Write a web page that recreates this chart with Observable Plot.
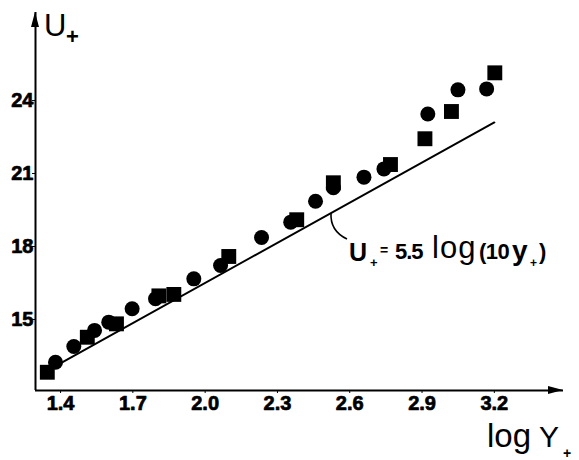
<!DOCTYPE html>
<html><head><meta charset="utf-8">
<script src="https://cdn.jsdelivr.net/npm/d3@7"></script>
<script src="https://cdn.jsdelivr.net/npm/@observablehq/plot@0.6"></script>
<style>body{margin:0;background:#fff} svg{display:block}</style>
</head><body><div id="chart"></div>
<script>
const xTicks = [1.4, 1.7, 2.0, 2.3, 2.6, 2.9, 3.2];
const yTicks = [15, 18, 21, 24];
const xDomain = [1.296, 3.487];
const yDomain = [12.08, 27.62];

const circleX = [1.379, 1.455, 1.541, 1.600, 1.697, 1.794, 1.953, 2.064, 2.234, 2.355, 2.458, 2.532, 2.659, 2.742, 2.924, 3.049, 3.168];
const circleY = [13.24, 13.89, 14.55, 14.89, 15.44, 15.85, 16.67, 17.22, 18.37, 19.00, 19.86, 20.42, 20.85, 21.19, 23.45, 24.44, 24.48];

const squareX = [1.345, 1.511, 1.632, 1.808, 1.870, 2.098, 2.380, 2.532, 2.769, 2.912, 3.022, 3.202];
const squareY = [12.83, 14.27, 14.82, 15.97, 16.03, 17.59, 19.10, 20.62, 21.37, 22.43, 23.55, 25.14];

// U+ = 5.5 log(10 y+) drawn between its two end points
const lineX = [1.345, 3.2];
const lineY = [12.90, 23.10];

const circles = circleX.map((x, i) => ({x, y: circleY[i]}));
const squares = squareX.map((x, i) => ({x, y: squareY[i]}));
const law = lineX.map((x, i) => ({x, y: lineY[i]}));

const ff = "'Liberation Sans', Arial, sans-serif";

const chart = Plot.plot({
  width: 579, height: 460,
  marginLeft: 35, marginRight: 16, marginTop: 12, marginBottom: 70,
  x: {domain: xDomain},
  y: {domain: yDomain},
  style: {fontFamily: ff, background: "white", color: "black"},
  marks: [
    Plot.axisX({ticks: xTicks, tickSize: 3, tickFormat: () => "", label: null}),
    Plot.axisY({ticks: yTicks, tickSize: 3, tickFormat: () => "", label: null}),
    Plot.text(xTicks, {x: d => d, frameAnchor: "bottom", lineAnchor: "top", dy: 5, text: d => d.toFixed(1), fontSize: 20, fontWeight: "bold", fill: "black", stroke: "black", strokeWidth: 0.7}),
    Plot.text(yTicks, {y: d => d, frameAnchor: "left", textAnchor: "end", dx: -2, text: d => String(d), fontSize: 20, fontWeight: "bold", fill: "black", stroke: "black", strokeWidth: 0.7}),
    Plot.ruleY([yDomain[0]], {x1: xDomain[0], x2: xDomain[1], strokeWidth: 2}),
    Plot.ruleX([xDomain[0]], {y1: yDomain[0], y2: yDomain[1], strokeWidth: 2}),
    Plot.line(law, {x: "x", y: "y", strokeWidth: 2}),
    Plot.dot(circles, {x: "x", y: "y", r: 7.5, fill: "black", symbol: "circle"}),
    Plot.dot(squares, {x: "x", y: "y", r: 8.4, fill: "black", symbol: "square"})
  ]
});
document.getElementById("chart").appendChild(chart);

const svg = d3.select(chart);
const sx = chart.scale("x"), sy = chart.scale("y");
const x0 = sx.apply(xDomain[0]), x1 = sx.apply(xDomain[1]);
const y0 = sy.apply(yDomain[0]), y1 = sy.apply(yDomain[1]);

// arrow heads
svg.append("path").attr("d", `M${x1},${y0} L${x1 - 15},${y0 - 4} L${x1 - 15},${y0 + 4} Z`).attr("fill", "black");
svg.append("path").attr("d", `M${x0},${y1} L${x0 - 4},${y1 + 15} L${x0 + 4},${y1 + 15} Z`).attr("fill", "black");

function txt(x, y, s, size, weight, extra) {
  const t = svg.append("text").attr("x", x).attr("y", y).attr("text-anchor", "start")
    .style("font-family", ff).style("font-size", size + "px").style("font-weight", weight)
    .attr("fill", "black").text(s);
  if (extra) for (const k in extra) t.style(k, extra[k]);
  return t;
}

// axis titles
txt(44, 36, "U", 31, "normal");
txt(66, 44, "+", 22, "bold");
txt(487, 447, "log", 33, "normal");
txt(539, 447, "Y", 30, "normal");
txt(563, 458, "+", 14, "bold");

// annotation leader
svg.append("path").attr("d", "M331,213 Q330,231 347,239").attr("fill", "none").attr("stroke", "black").attr("stroke-width", 1.6);

// annotation formula
txt(349, 261, "U", 25, "bold");
txt(370, 267, "+", 13, "bold");
txt(380, 255, "=", 14, "bold");
txt(395, 259, "5.5", 22, "bold", {"letter-spacing": "-1px"});
txt(432, 258, "log", 31, "normal", {"letter-spacing": "1px"});
txt(479, 259, "(10", 22, "bold", {"letter-spacing": "-0.5px"});
txt(512, 260, "y", 28, "bold");
txt(530, 267, "+", 12, "bold");
txt(539, 259, ")", 22, "bold");
</script>
</body></html>
